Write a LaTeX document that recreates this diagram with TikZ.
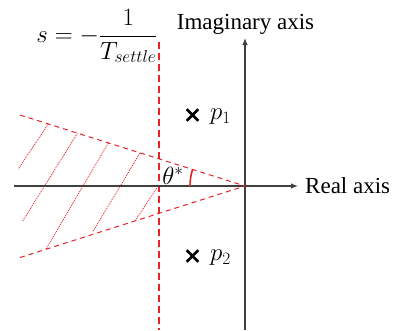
\documentclass[tikz,border=0pt]{standalone}
\usepackage{fontspec}
\setmainfont{Liberation Serif}
\usetikzlibrary{arrows.meta,shapes.misc}
\definecolor{axgray}{RGB}{64,64,64}
\definecolor{myred}{RGB}{230,35,40}
\begin{document}
\begin{tikzpicture}[x=1pt,y=-1pt,
  axis/.style={draw=axgray,line width=1.2pt,-{Latex[length=7pt,width=5.5pt]}},
  bound/.style={draw=myred,line width=1pt,dash pattern=on 5pt off 4pt},
  settle/.style={draw=myred,line width=2pt,dash pattern=on 7pt off 4pt},
  hatch/.style={draw=myred,line width=0.8pt,dash pattern=on 1pt off 1pt},
  pole/.style={cross out,draw=black,line width=2.6pt,minimum size=9pt,inner sep=0pt},
  lbl/.style={font=\fontsize{23}{27}\selectfont,inner sep=0pt},
  mlbl/.style={font=\fontsize{24}{28}\selectfont,inner sep=0pt}]
\useasboundingbox (0,0) rectangle (393,330);
\coordinate (O) at (245,186);
\coordinate (hs) at (14,186);
\coordinate (he) at (298,186);
\coordinate (vs) at (245,330);
\coordinate (ve) at (245,38);
\coordinate (ub) at (20,115);
\coordinate (lb) at (20,257.5);
\coordinate (st) at (158.5,42);
\coordinate (sb) at (158.5,330);
% settle line
\draw[settle] (st) -- (sb);
% hatch
\coordinate (h1a) at (48.3,124); \coordinate (h1b) at (18.3,169);
\coordinate (h2a) at (77.3,133.5); \coordinate (h2b) at (22.7,221);
\coordinate (h3a) at (108.3,143); \coordinate (h3b) at (46,249);
\coordinate (h4a) at (140,153); \coordinate (h4b) at (92.7,232);
\coordinate (h5a) at (156.7,188); \coordinate (h5b) at (135,221);
\draw[hatch] (h1a) -- (h1b);
\draw[hatch] (h2a) -- (h2b);
\draw[hatch] (h3a) -- (h3b);
\draw[hatch] (h4a) -- (h4b);
\draw[hatch] (h5a) -- (h5b);
% axes
\draw[axis] (hs) -- (he);
\draw[axis] (vs) -- (ve);
% boundary lines
\draw[bound] (ub) -- (O);
\draw[bound] (lb) -- (O);
% angle arc
\draw[draw=myred,line width=1.6pt] (190,186) arc[start angle=180,end angle=197.5,radius=55];
% labels
\node[lbl,anchor=west] (ra) at (305,186) {Real axis};
\node[lbl,anchor=base] (ia) at (245.5,29) {Imaginary axis};
\node[mlbl] (th) at (173,176) {$\theta^{*}$};
\node[mlbl] (form) at (97,36) {$s=-\displaystyle\frac{1}{T_{settle}}$};
\node[pole] (x1) at (192.5,115) {};
\node[pole] (x2) at (192.5,256) {};
\node[mlbl,anchor=west] (p1) at (210,117) {$p_1$};
\node[mlbl,anchor=west] (p2) at (210,258) {$p_2$};
\end{tikzpicture}
\end{document}
